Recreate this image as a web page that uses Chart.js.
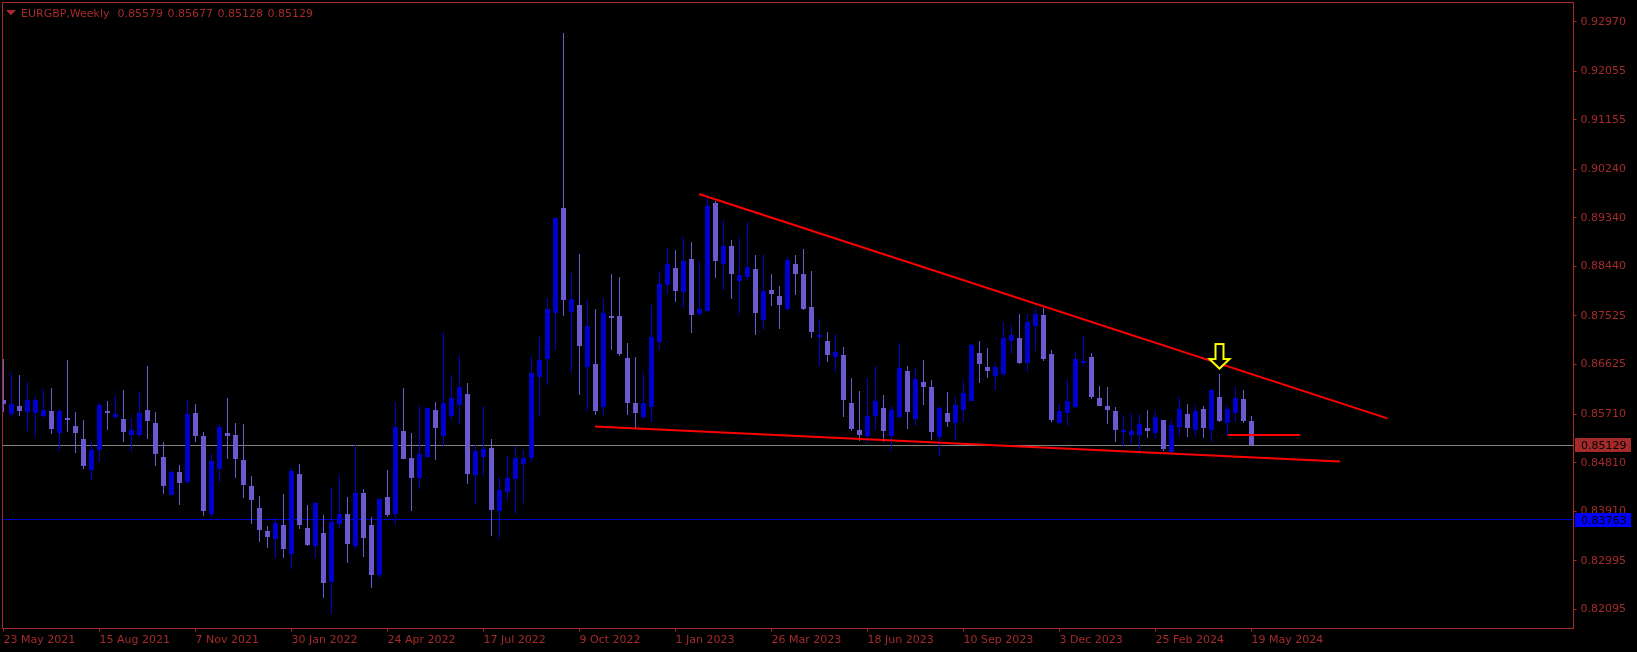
<!DOCTYPE html>
<html>
<head>
<meta charset="utf-8">
<title>EURGBP,Weekly</title>
<style>
  html, body { margin: 0; padding: 0; background: #000; overflow: hidden; }
  canvas { display: block; }
</style>
<script src="https://cdn.jsdelivr.net/npm/chart.js@4"></script>
</head>
<body>
<canvas id="priceChart" width="1637" height="652"></canvas>
<script>
// =========================================
// EURGBP WEEKLY CANDLES
// =========================================
const opens = [
  0.85962,0.85709,0.85851,0.85740,0.85722,0.85672,0.85759,0.85351,0.85629,0.85481,
  0.85240,0.84673,0.85037,0.85759,0.85648,0.85611,0.85314,0.85314,0.85777,0.85537,
  0.84907,0.84204,0.84630,0.84444,0.85722,0.85296,0.83852,0.84685,0.85351,0.85314,
  0.84852,0.84370,0.83963,0.83537,0.83389,0.83649,0.83112,0.84593,0.83593,0.83260,
  0.83500,0.82593,0.83667,0.83852,0.83260,0.84241,0.83649,0.82723,0.84167,0.83852,
  0.85388,0.84889,0.84519,0.84907,0.85777,0.85296,0.85666,0.85870,0.86073,0.84574,
  0.84907,0.85074,0.83908,0.84259,0.84500,0.84790,0.84889,0.86404,0.86719,0.87571,
  0.89514,0.87589,0.87719,0.86571,0.86627,0.85831,0.87515,0.87515,0.86738,0.85905,
  0.85664,0.85849,0.87034,0.88089,0.88404,0.87959,0.88570,0.87552,0.87608,0.89607,
  0.88478,0.88811,0.88164,0.88238,0.88386,0.87442,0.87997,0.87886,0.87645,0.88478,
  0.88293,0.87682,0.87127,0.87053,0.86757,0.86794,0.85905,0.85406,0.85295,0.85665,
  0.85813,0.85295,0.85646,0.86498,0.85609,0.86294,0.86202,0.85276,0.85720,0.85535,
  0.85777,0.85943,0.86832,0.86573,0.86406,0.86443,0.87054,0.87110,0.86647,0.87332,
  0.87535,0.86813,0.85536,0.85721,0.85832,0.86647,0.86758,0.85999,0.85851,0.85758,
  0.85370,0.85314,0.85314,0.85444,0.85351,0.85592,0.84999,0.85462,0.85703,0.85407,
  0.85795,0.85407,0.86017,0.85536,0.85721,0.85981,0.85579
];
const highs = [
  0.86721,0.86462,0.86425,0.86295,0.86049,0.86166,0.86184,0.85796,0.86703,0.85740,
  0.85592,0.85185,0.85907,0.85944,0.86036,0.86147,0.85629,0.86129,0.86592,0.85740,
  0.85185,0.84679,0.84759,0.85962,0.85888,0.85370,0.84963,0.85518,0.85999,0.85537,
  0.85518,0.84556,0.84185,0.83630,0.83797,0.84222,0.84704,0.84778,0.84019,0.84074,
  0.83834,0.84352,0.84574,0.84167,0.85129,0.84315,0.83797,0.84148,0.84667,0.85925,
  0.86184,0.85351,0.85870,0.85845,0.85925,0.87221,0.86425,0.86795,0.86277,0.85129,
  0.85851,0.85240,0.84537,0.84926,0.85111,0.85037,0.86776,0.87126,0.87848,0.89354,
  0.92753,0.88311,0.88663,0.87811,0.87645,0.87848,0.88292,0.88237,0.87015,0.86756,
  0.86460,0.87719,0.88348,0.88774,0.88737,0.88977,0.88885,0.88533,0.89786,0.89644,
  0.89293,0.88922,0.88978,0.89256,0.88645,0.88663,0.88293,0.88071,0.88608,0.88645,
  0.88756,0.88349,0.87460,0.87220,0.87183,0.86942,0.86368,0.86127,0.86368,0.86590,
  0.86053,0.85850,0.87016,0.86590,0.86553,0.86701,0.86331,0.85850,0.86109,0.86016,
  0.86314,0.86998,0.87054,0.86924,0.86647,0.87406,0.87350,0.87554,0.87554,0.87665,
  0.87665,0.86887,0.85888,0.86351,0.86850,0.87147,0.86832,0.86221,0.86203,0.85832,
  0.85684,0.85721,0.85703,0.85777,0.85758,0.85592,0.85592,0.86017,0.85888,0.85869,
  0.85851,0.86166,0.86443,0.85869,0.86203,0.86147,0.85677
];
const lows = [
  0.85746,0.85654,0.85672,0.85388,0.85277,0.85635,0.85333,0.85018,0.85370,0.84981,
  0.84685,0.84481,0.84815,0.85407,0.85611,0.85185,0.85000,0.85277,0.85240,0.84741,
  0.84222,0.84204,0.84019,0.84407,0.85185,0.83815,0.83797,0.84444,0.84870,0.84519,
  0.84148,0.83667,0.83334,0.83223,0.83038,0.83038,0.82834,0.83575,0.83260,0.83038,
  0.82297,0.82001,0.83593,0.82945,0.83204,0.83056,0.82482,0.82668,0.83797,0.83649,
  0.84870,0.83908,0.84315,0.84889,0.84852,0.85111,0.85592,0.85500,0.84407,0.84019,
  0.84556,0.83445,0.83389,0.84093,0.83852,0.84056,0.84815,0.85646,0.86238,0.86886,
  0.87515,0.86478,0.86071,0.85757,0.85701,0.85701,0.86886,0.86775,0.85701,0.85460,
  0.85609,0.85571,0.86886,0.87922,0.87774,0.87663,0.87200,0.87515,0.87608,0.88218,
  0.87997,0.87830,0.87534,0.88182,0.87164,0.87257,0.87701,0.87275,0.87608,0.87904,
  0.87627,0.87109,0.86590,0.86664,0.86479,0.85646,0.85387,0.85202,0.85165,0.85406,
  0.85183,0.85017,0.85609,0.85424,0.85480,0.85868,0.85220,0.84906,0.85461,0.85220,
  0.85555,0.85943,0.86277,0.86369,0.86147,0.86388,0.86813,0.86628,0.86480,0.86869,
  0.86684,0.85555,0.85518,0.85481,0.85814,0.86591,0.85980,0.85851,0.85518,0.85184,
  0.85110,0.85147,0.84975,0.85259,0.85259,0.85018,0.84981,0.85277,0.85277,0.85296,
  0.85259,0.85184,0.85555,0.85296,0.85555,0.85537,0.85128
];
const closes = [
  0.85888,0.85888,0.85759,0.85962,0.85975,0.85777,0.85426,0.85759,0.85592,0.85351,
  0.84741,0.85037,0.85870,0.85722,0.85709,0.85370,0.85407,0.85722,0.85574,0.84963,
  0.84370,0.84630,0.84426,0.85703,0.85296,0.83908,0.84833,0.85463,0.85296,0.84870,
  0.84389,0.84111,0.83556,0.83426,0.83686,0.83204,0.84648,0.83649,0.83278,0.84056,
  0.82575,0.83704,0.83852,0.83297,0.84241,0.83408,0.82723,0.84130,0.83834,0.85463,
  0.84870,0.84519,0.84963,0.85827,0.85444,0.85907,0.85999,0.86203,0.84593,0.85018,
  0.85055,0.83926,0.84296,0.84519,0.84889,0.84889,0.86462,0.86701,0.87645,0.89329,
  0.87811,0.87830,0.86960,0.87330,0.85775,0.87571,0.87478,0.86812,0.85905,0.85738,
  0.85905,0.87126,0.88107,0.88478,0.87978,0.88533,0.87534,0.87645,0.89551,0.88533,
  0.88811,0.88293,0.88275,0.88423,0.87571,0.87978,0.87923,0.87719,0.88552,0.88293,
  0.87645,0.87220,0.87164,0.86794,0.86849,0.85961,0.85424,0.85313,0.85665,0.85942,
  0.85387,0.85776,0.86553,0.85739,0.86350,0.86202,0.85369,0.85813,0.85554,0.85868,
  0.86091,0.86980,0.86628,0.86499,0.86573,0.87110,0.87165,0.86647,0.87406,0.87554,
  0.86721,0.85592,0.85758,0.85943,0.86721,0.86684,0.86017,0.85851,0.85777,0.85407,
  0.85407,0.85388,0.85518,0.85388,0.85647,0.85055,0.85499,0.85795,0.85444,0.85758,
  0.85444,0.86147,0.85573,0.85795,0.85999,0.85574,0.85129
];

// axis labels (one date label every 12 weeks)
const dateTickWeeks = [0, 12, 24, 36, 48, 60, 72, 84, 96, 108, 120, 132, 144, 156];
const dateTickLabels = ['23 May 2021', '15 Aug 2021', '7 Nov 2021', '30 Jan 2022', '24 Apr 2022', '17 Jul 2022',
  '9 Oct 2022', '1 Jan 2023', '26 Mar 2023', '18 Jun 2023', '10 Sep 2023', '3 Dec 2023', '25 Feb 2024', '19 May 2024'];
const priceTicks = [0.92970, 0.92055, 0.91155, 0.90240, 0.89340, 0.88440, 0.87525, 0.86625, 0.85710, 0.84810, 0.83910, 0.82995, 0.82095];

// drawn objects: trend lines, support stub, price lines, arrow
const weekMin = -0.125;
const weekMax = 196.25;
const priceMin = 0.81741;
const priceMax = 0.93325;
const upperTrendWeeks = [86.94, 172.98];
const upperTrendPrices = [0.89780, 0.85629];
const lowerTrendWeeks = [73.94, 167.06];
const lowerTrendPrices = [0.85481, 0.84833];
const stubWeeks = [153.06, 162.06];
const stubPrices = [0.85320, 0.85320];
const bidPrice = 0.85129;
const levelPrice = 0.83763;
const arrowWeek = 152;
const arrowPrice = 0.86774;

const BROWN = '#A52A2A';
const BULL = '#0000CD';
const BEAR = '#6A5ACD';
const FONT = '11px "DejaVu Sans"';

function toPoints(xs, ys) {
  return xs.map((x, i) => ({ x: x, y: ys[i] }));
}

function lineDataset(xs, ys, color, width, order) {
  return {
    type: 'line',
    data: toPoints(xs, ys),
    borderColor: color,
    borderWidth: width,
    pointRadius: 0,
    tension: 0,
    fill: false,
    order: order
  };
}

// yellow hollow down arrow, used as the point image
function makeArrow() {
  const c = document.createElement('canvas');
  c.width = 25;
  c.height = 29;
  const g = c.getContext('2d');
  g.beginPath();
  g.moveTo(8.5, 2);
  g.lineTo(16.5, 2);
  g.lineTo(16.5, 17);
  g.lineTo(22.5, 17);
  g.lineTo(12.5, 26.5);
  g.lineTo(2.5, 17);
  g.lineTo(8.5, 17);
  g.closePath();
  g.fillStyle = '#000';
  g.fill();
  g.strokeStyle = '#FFFF00';
  g.lineWidth = 2;
  g.stroke();
  return c;
}

const candleColors = closes.map((c, i) => (c >= opens[i] ? BULL : BEAR));

// frame, crisp candle edges and price lines, header and price tags
const terminalPlugin = {
  id: 'terminal',
  beforeDatasetsDraw(chart) {
    const { ctx, chartArea: a } = chart;
    ctx.save();
    ctx.strokeStyle = BROWN;
    ctx.lineWidth = 1;
    ctx.strokeRect(a.left, a.top, a.right - a.left, a.bottom - a.top);
    ctx.restore();

    chart.getSortedVisibleDatasetMetas().forEach(meta => {
      if (meta.type === 'bar') {
        meta.data.forEach(el => {
          el.y = Math.round(el.y);
          el.base = Math.round(el.base);
          if (el.y === el.base) el.base += 1;
        });
      } else if (meta.index < 2) {
        // the two horizontal price lines sit on a whole pixel row
        meta.data.forEach(el => { el.y = Math.floor(el.y) + 0.5; });
      }
    });
  },
  afterDraw(chart) {
    const { ctx, scales } = chart;
    ctx.save();
    ctx.font = FONT;
    ctx.textBaseline = 'alphabetic';

    // header
    ctx.fillStyle = BROWN;
    ctx.beginPath();
    ctx.moveTo(6, 10);
    ctx.lineTo(16, 10);
    ctx.lineTo(11, 15.5);
    ctx.closePath();
    ctx.fill();
    ctx.fillText('EURGBP,Weekly', 21, 17);
    ctx.fillText('0.85579', 117.5, 17);
    ctx.fillText('0.85677', 167.5, 17);
    ctx.fillText('0.85128', 217.5, 17);
    ctx.fillText('0.85129', 267.5, 17);

    // price tags
    const tags = [[bidPrice, BROWN, -7], [levelPrice, '#0000FF', -6]];
    tags.forEach(([price, color, shift]) => {
      const top = Math.floor(scales.y.getPixelForValue(price)) + shift;
      ctx.fillStyle = color;
      ctx.fillRect(1575, top, 56, 14);
      ctx.fillStyle = '#000';
      ctx.fillText(price.toFixed(5), 1581, top + 11);
    });
    ctx.restore();
  }
};

new Chart(document.getElementById('priceChart'), {
  type: 'bar',
  data: {
    datasets: [
      lineDataset([weekMin, weekMax], [bidPrice, bidPrice], '#808080', 1, 6),
      lineDataset([weekMin, weekMax], [levelPrice, levelPrice], BULL, 1, 6),
      {
        data: opens.map((o, i) => ({ x: i, y: [lows[i], highs[i]] })),
        backgroundColor: candleColors,
        barThickness: 1,
        inflateAmount: 0,
        order: 5
      },
      {
        data: opens.map((o, i) => ({ x: i, y: [o, closes[i]] })),
        backgroundColor: candleColors,
        barThickness: 5,
        inflateAmount: 0,
        order: 4
      },
      lineDataset(upperTrendWeeks, upperTrendPrices, '#FF0000', 2, 3),
      lineDataset(lowerTrendWeeks, lowerTrendPrices, '#FF0000', 2, 3),
      lineDataset(stubWeeks, stubPrices, '#FF0000', 2, 3),
      {
        type: 'scatter',
        data: [{ x: arrowWeek, y: arrowPrice }],
        pointStyle: makeArrow(),
        pointRadius: 12,
        order: 1
      }
    ]
  },
  options: {
    responsive: false,
    animation: false,
    events: [],
    layout: { autoPadding: false, padding: { left: 2.5, top: 2.5, right: 0, bottom: 0 } },
    datasets: { bar: { grouped: false } },
    plugins: { legend: { display: false }, tooltip: { enabled: false } },
    scales: {
      x: {
        type: 'linear',
        min: weekMin,
        max: weekMax,
        offset: false,
        afterBuildTicks: axis => { axis.ticks = dateTickWeeks.map(v => ({ value: v })); },
        afterFit: axis => {
          axis.height = 23.5;
          axis.paddingLeft = 0;
          axis.paddingRight = 0;
        },
        grid: { drawOnChartArea: false, offset: false, color: BROWN, tickLength: 3 },
        border: { display: false },
        ticks: {
          autoSkip: false,
          maxRotation: 0,
          align: 'start',
          padding: 2,
          color: BROWN,
          font: { family: 'DejaVu Sans', size: 11 },
          callback: v => dateTickLabels[dateTickWeeks.indexOf(v)]
        }
      },
      y: {
        position: 'right',
        min: priceMin,
        max: priceMax,
        afterBuildTicks: axis => { axis.ticks = priceTicks.map(v => ({ value: v })); },
        afterFit: axis => {
          axis.width = 63.5;
          axis.paddingTop = 0;
          axis.paddingBottom = 0;
        },
        grid: { drawOnChartArea: false, color: BROWN, tickLength: 3 },
        border: { display: false },
        ticks: {
          padding: 4,
          color: BROWN,
          font: { family: 'DejaVu Sans', size: 11 },
          callback: v => v.toFixed(5)
        }
      }
    }
  },
  plugins: [terminalPlugin]
});
</script>
</body>
</html>
